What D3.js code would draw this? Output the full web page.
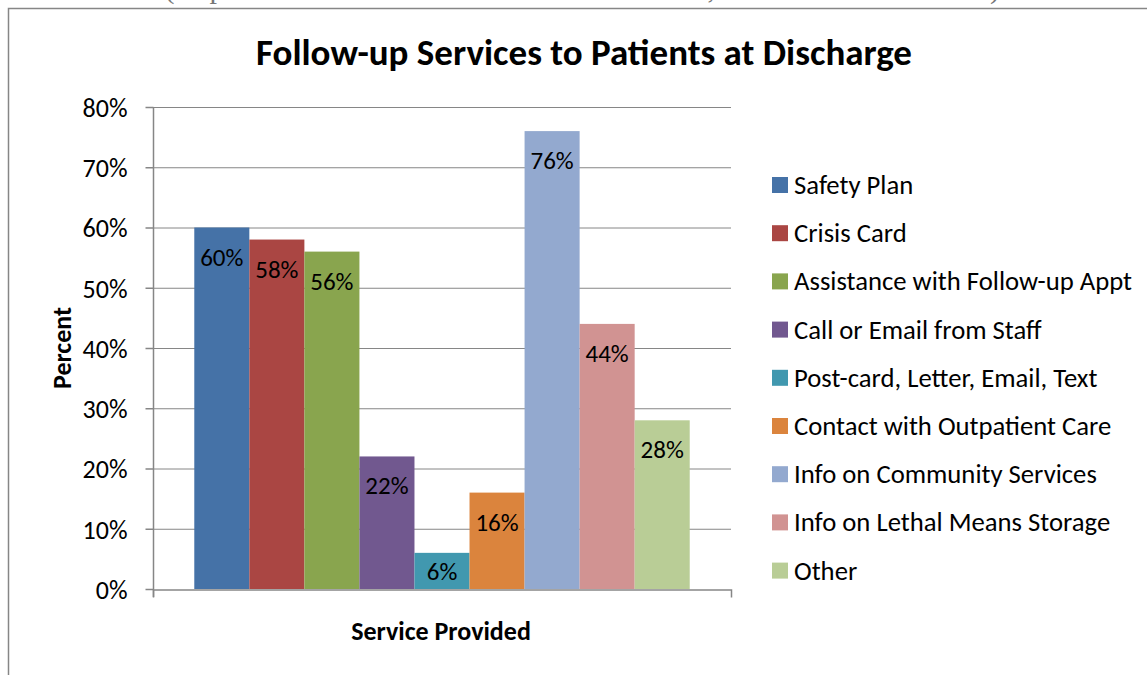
<!DOCTYPE html>
<html>
<head>
<meta charset="utf-8">
<script src="https://cdn.jsdelivr.net/npm/d3@7"></script>
<style>
  html, body { margin: 0; padding: 0; background: #fff; }
  svg { display: block; font-family: Carlito, Lato, "Open Sans", sans-serif; }
</style>
</head>
<body>
<svg id="chart" width="1147" height="675"></svg>
<script>
const services = [
    "Safety Plan",
    "Crisis Card",
    "Assistance with Follow-up Appt",
    "Call or Email from Staff",
    "Post-card, Letter, Email, Text",
    "Contact with Outpatient Care",
    "Info on Community Services",
    "Info on Lethal Means Storage",
    "Other"
];
const percents = [60, 58, 56, 22, 6, 16, 76, 44, 28];
const barColors = ["#4572A7", "#AA4643", "#89A54E", "#71588F", "#4198AF", "#DB843D", "#93A9CF", "#D19392", "#B9CD96"];
const yTicks = [0, 10, 20, 30, 40, 50, 60, 70, 80];

const svg = d3.select("#chart");

// caption line of the page above the chart, cut off by the top edge
svg.append("text")
    .attr("x", 1000)
    .attr("y", -2)
    .attr("text-anchor", "end")
    .style("font-family", "'Liberation Serif', serif")
    .style("font-size", "30px")
    .attr("fill", "#777")
    .text("Table 8 (respondents could select more than one item, so total exceeds 100%)");

// chart frame
svg.append("rect")
    .attr("x", 8.5).attr("y", 8.5)
    .attr("width", 1160).attr("height", 700)
    .attr("fill", "#fff")
    .attr("stroke", "#868686")
    .attr("stroke-width", 1.5);

const plot = { left: 153, right: 731, top: 107, bottom: 589 };

const y = d3.scaleLinear().domain([0, 80]).range([plot.bottom, plot.top]);
const x = d3.scaleBand()
    .domain(["Service Provided"])
    .range([plot.left, plot.right])
    .paddingOuter(0).paddingInner(0);
// Excel gap width 150%: outer padding = 0.75 of one bar on each side
const xs = d3.scaleBand()
    .domain(services)
    .range([0, x.bandwidth()])
    .paddingInner(0)
    .paddingOuter(0.75);

// gridlines
svg.append("g")
    .selectAll("line")
    .data(yTicks.filter(d => d > 0))
    .join("line")
    .attr("x1", plot.left).attr("x2", plot.right)
    .attr("y1", d => y(d) + 0.5).attr("y2", d => y(d) + 0.5)
    .attr("stroke", "#868686")
    .attr("stroke-width", 1);

// y axis
const yAxis = svg.append("g")
    .attr("transform", `translate(${plot.left + 0.5},0)`)
    .call(d3.axisLeft(y).tickValues(yTicks).tickFormat(d => d + "%").tickSize(8).tickPadding(18));
yAxis.select(".domain").attr("stroke", "#868686").attr("stroke-width", 1.5).attr("d", `M0,${plot.top}V${plot.bottom + 8}`);
yAxis.selectAll(".tick line").attr("stroke", "#868686").attr("stroke-width", 1.5);
yAxis.selectAll(".tick text")
    .attr("fill", "#000")
    .attr("dy", "0.36em")
    .style("font-size", "26px")
    .style("font-family", "Carlito, Lato, sans-serif");

// bars
const g = svg.append("g").attr("transform", `translate(${x("Service Provided")},0)`);
g.selectAll("rect")
    .data(percents)
    .join("rect")
    .attr("x", (d, i) => xs(services[i]))
    .attr("y", d => y(d))
    .attr("width", xs.bandwidth())
    .attr("height", d => y(0) - y(d))
    .attr("fill", (d, i) => barColors[i]);

g.selectAll("text.lbl")
    .data(percents)
    .join("text")
    .attr("class", "lbl")
    .attr("x", (d, i) => xs(services[i]) + xs.bandwidth() / 2)
    .attr("y", d => Math.min(y(d) + 38, y(0) - 9))
    .attr("text-anchor", "middle")
    .style("font-size", "25px")
    .attr("fill", "#000")
    .text(d => d + "%");

// x axis
const xAxis = svg.append("g")
    .attr("transform", `translate(0,${plot.bottom + 0.5})`)
    .call(d3.axisBottom(x).tickValues([]).tickSizeOuter(8));
xAxis.select(".domain").attr("stroke", "#868686").attr("stroke-width", 1.5);

// titles
svg.append("text")
    .attr("x", 584).attr("y", 65)
    .attr("text-anchor", "middle")
    .style("font-size", "37px")
    .style("font-weight", "bold")
    .text("Follow-up Services to Patients at Discharge");

svg.append("text")
    .attr("x", 441).attr("y", 640)
    .attr("text-anchor", "middle")
    .style("font-size", "26px")
    .style("font-weight", "bold")
    .text("Service Provided");

svg.append("text")
    .attr("transform", "translate(71,348) rotate(-90)")
    .attr("text-anchor", "middle")
    .style("font-size", "26px")
    .style("font-weight", "bold")
    .text("Percent");

// legend
const legend = svg.append("g").attr("transform", "translate(772,185)");
const item = legend.selectAll("g")
    .data(services)
    .join("g")
    .attr("transform", (d, i) => `translate(0,${i * 48.2})`);
item.append("rect")
    .attr("x", 0).attr("y", -8)
    .attr("width", 16).attr("height", 16)
    .attr("fill", (d, i) => barColors[i]);
item.append("text")
    .attr("x", 22).attr("y", 9)
    .style("font-size", "26.7px")
    .text(d => d);
</script>
</body>
</html>
